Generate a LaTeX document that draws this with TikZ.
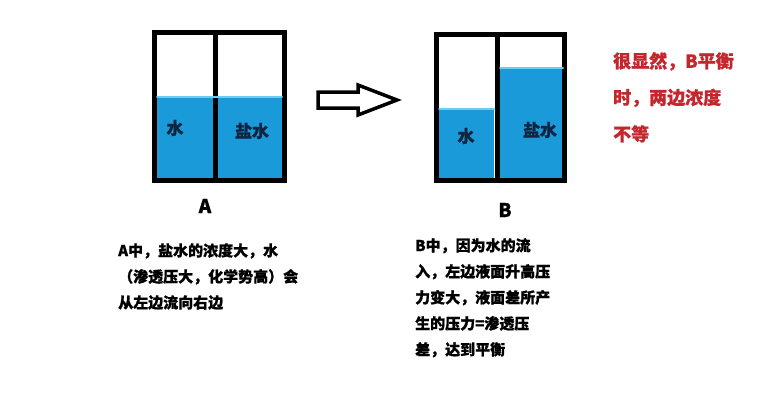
\documentclass[tikz,border=0pt]{standalone}
\usepackage{xcolor}
\usepackage{fontspec}
\newfontfamily\cjk{Noto Sans CJK SC}[BoldFeatures={FakeBold=0.8}]
\definecolor{agua}{HTML}{1A9AD8}
\definecolor{orilla}{HTML}{6CCBF2}
\definecolor{rojo}{HTML}{C4262E}
\definecolor{tinta}{HTML}{0E2440}

\begin{document}
\begin{tikzpicture}[x=1pt, y=-1pt,
    marco/.style = {line width = 5pt},
    nivel/.style = {orilla, line width = 2pt, line cap = round},
    liquido/.style = {font = \cjk\bfseries\fontsize{17}{17}\selectfont, text = tinta},
    letra/.style = {font = \cjk\bfseries\fontsize{19}{19}\selectfont},
    nota/.style = {font = \cjk\bfseries\fontsize{15}{26}\selectfont, align = left, anchor = north west, inner sep = 0pt}]
    \useasboundingbox (0,0) rectangle (768,400);
    \fill[white] (0,0) rectangle (768,400);

    % Recipiente A
    \fill[agua] (157,97) rectangle (282,178);
    \draw[marco] (154.5,32.5) rectangle (284.5,180.5);
    \draw[marco] (215,32.5) -- (215,180.5);
    \draw[nivel] (157,97) -- (282,97);
    \node[liquido] (aguaA) at (175,128) {水};
    \node[liquido] (salA) at (252,131) {盐水};
    \node[letra] (etiqA) at (205,206) {A};

    % Flecha
    \draw[line width = 3.5pt, line join = miter]
        (318,92) -- (358,92) -- (358,85) -- (397,100) -- (358,115) -- (358,108) -- (318,108) -- cycle;

    % Recipiente B
    \fill[agua] (439,109) rectangle (494,178);
    \fill[agua] (500,68) rectangle (562,178);
    \draw[marco] (436.5,34.5) rectangle (564.5,180.5);
    \draw[marco] (497,34.5) -- (497,180.5);
    \draw[nivel] (439,109) -- (494,109);
    \draw[nivel] (500,68) -- (563,68);
    \node[liquido] (aguaB) at (466,136) {水};
    \node[liquido] (salB) at (540,130) {盐水};
    \node[letra] (etiqB) at (505,210) {B};

    % Textos
    \node[nota] (textoA) at (118,243) {A中，盐水的浓度大，水\\（渗透压大，化学势高）会\\从左边流向右边};
    \node[nota] (textoB) at (415,238) {B中，因为水的流\\入，左边液面升高压\\力变大，液面差所产\\生的压力=渗透压\\差，达到平衡};
    \node[nota, text = rojo, font = \cjk\bfseries\fontsize{18}{36.5}\selectfont] (conclusion) at (613,52) {很显然，B平衡\\时，两边浓度\\不等};
\end{tikzpicture}
\end{document}
